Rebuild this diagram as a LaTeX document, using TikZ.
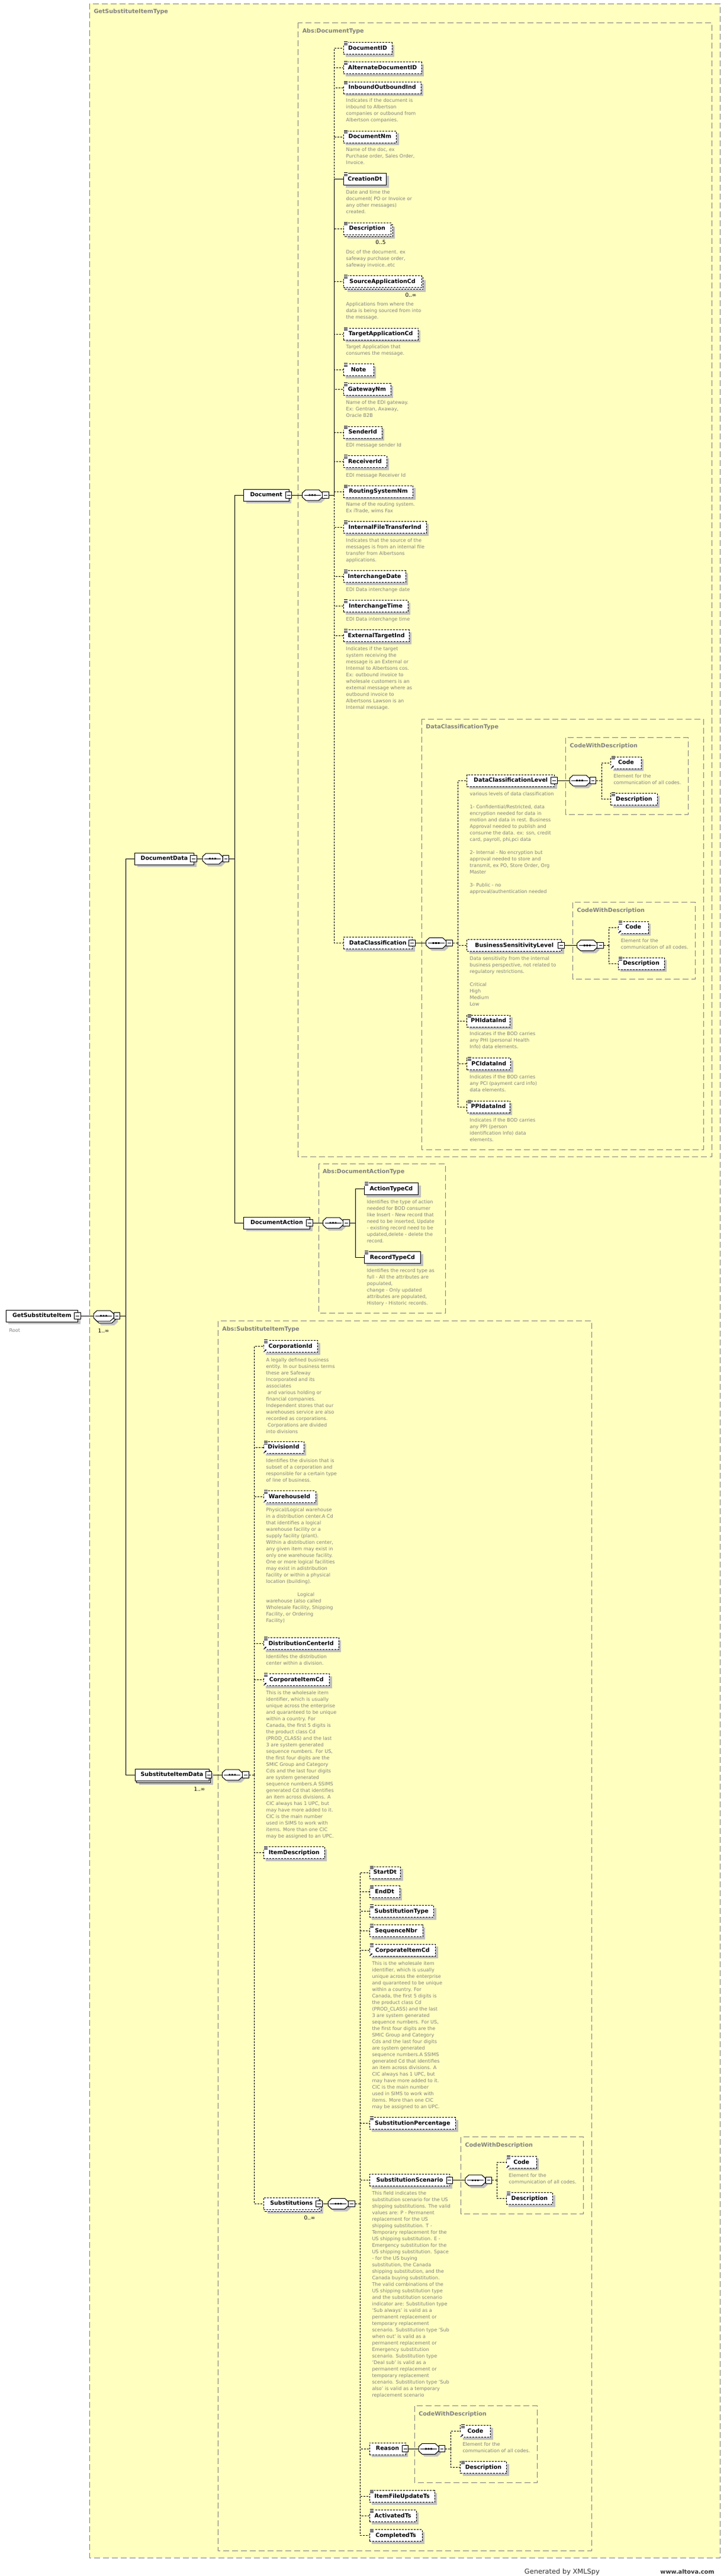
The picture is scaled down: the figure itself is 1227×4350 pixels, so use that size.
\documentclass[tikz,border=0pt]{standalone}
\usepackage{fontspec}
\setmainfont{DejaVu Sans}
\usetikzlibrary{shadows,arrows.meta}
\definecolor{yel}{HTML}{FFFFC0}
\definecolor{bordg}{HTML}{808080}
\definecolor{txtg}{HTML}{808080}
\definecolor{shc}{HTML}{C0C0C0}
\pgfdeclarelayer{back}
\pgfdeclarelayer{mid}
\pgfsetlayers{back,mid,main}
\tikzset{
  elbase/.style={draw=black, fill=white, line width=1pt, minimum height=20pt, inner xsep=2pt, inner ysep=0pt, text height=7pt, text depth=1.8pt, font=\fontsize{9.5}{11}\selectfont\bfseries, anchor=west},
  elem/.style={elbase, drop shadow={shadow xshift=4pt, shadow yshift=-4pt, fill=shc, opacity=1}},
  optb/.style={dash pattern=on 3pt off 2pt},
  ln/.style={draw=black, line width=1pt},
  oln/.style={draw=black, line width=1pt, dash pattern=on 3pt off 2pt},
  contst/.style={fill=yel, draw=bordg, line width=1pt, dash pattern=on 10pt off 5pt},
  tlabel/.style={font=\fontsize{9.6}{11}\selectfont\bfseries, text=txtg, anchor=base west, inner sep=0pt},
  descr/.style={font=\fontsize{8.1}{11}\selectfont, text=txtg, anchor=north west, align=left, inner sep=0pt},
  mult/.style={font=\fontsize{9}{10}\selectfont, text=black, inner sep=0pt},
}
% element box (complex, no icon)
\newcommand\xel[6][]{\node[elem,#1,minimum width={(#5)-(#3)}] (#2) at ({#3},{#4+10}) {#6};}
% simple element icon
\newcommand\xicn[2]{%
 \fill[white] ({#1+0.5},{#2-1.5}) rectangle ({#1+8},{#2+5.5});
 \draw[line width=0.9pt] ({#1+1.5},{#2-0.8}) -- ({#1+7.5},{#2-0.8})
   ({#1+1.5},{#2+1.5}) -- ({#1+7.5},{#2+1.5})
   ({#1+1.5},{#2+3.8}) -- ({#1+7.5},{#2+3.8});}
% reference arrow
\newcommand\xref[2]{%
 \fill[white] ({#1-0.5},{#2-6.5}) rectangle ({#1+6.5},{#2+0.5});
 \draw[line width=1pt,-{Triangle[length=2.8pt,width=2.8pt]}] ({#1+1},{#2-0.5}) -- ({#1+5.5},{#2-5});}
\newcommand\xels[6][]{\xel[#1]{#2}{#3}{#4}{#5}{#6}\xicn{#3}{#4}}
\newcommand\xelr[6][]{\xels[#1]{#2}{#3}{#4}{#5}{#6}\xref{#3}{#4+20}}
% multiple element
\newcommand\xelm[6][]{%
 \draw[line width=1pt,fill=white,#1,drop shadow={shadow xshift=4pt,shadow yshift=-4pt,fill=shc,opacity=1}] ({#3+3},{#4+3}) rectangle ({#5+3},{#4+23});
 \node[elbase,#1,minimum width={(#5)-(#3)}] (#2) at ({#3},{#4+10}) {#6};}
% minus box
\newcommand\xminus[2]{%
 \draw[line width=1pt,fill=white] ({#1-5.3},{#2-5.3}) rectangle ({#1+5.3},{#2+5.3});
 \draw[line width=1pt] ({#1-3},{#2}) -- ({#1+3},{#2});}
% sequence compositor
\newcommand\xseqcore[4]{%
 \begin{scope}[shift={({#2},{#3})}]
  \draw[line width=1pt,fill=white] (0,-3.5) -- (6,-9) -- (28,-9) -- (34,-3.5) -- (34,3.5) -- (28,9) -- (6,9) -- (0,3.5) -- cycle;
  \draw[line width=1pt] (3,0) -- (31,0);
  \fill (11.2,-1.3) rectangle (13.8,1.3) (15.7,-1.3) rectangle (18.3,1.3) (20.2,-1.3) rectangle (22.8,1.3);
  \draw[line width=1pt,fill=white] (34.2,-5.3) rectangle (44.8,5.3);
  \draw[line width=1pt] (36.8,0) -- (42.2,0);
 \end{scope}
 \node[inner sep=0pt,minimum width=45pt,minimum height=18pt,anchor=west] (#1) at ({#2},{#3}) {};
 \coordinate (#1-r) at ({#4},{#3});}
\newcommand\xseq[4]{%
 \fill[shc,shift={({#2+4},{#3+4})}] (0,-3.5) -- (6,-9) -- (28,-9) -- (34,-3.5) -- (34,3.5) -- (28,9) -- (6,9) -- (0,3.5) -- cycle;
 \xseqcore{#1}{#2}{#3}{#4}}
\newcommand\xseqm[4]{%
 \fill[shc,shift={({#2+7},{#3+7})}] (0,-3.5) -- (6,-9) -- (28,-9) -- (34,-3.5) -- (34,3.5) -- (28,9) -- (6,9) -- (0,3.5) -- cycle;
 \draw[line width=1pt,fill=white,shift={({#2+3},{#3+3})}] (0,-3.5) -- (6,-9) -- (28,-9) -- (34,-3.5) -- (34,3.5) -- (28,9) -- (6,9) -- (0,3.5) -- cycle;
 \xseqcore{#1}{#2}{#3}{#4}}
% description text
\newcommand\xdsc[4]{\node[descr] (#1) at ({#2},{#3-4.7}) {\strut #4};}
% container type box
\newcommand\xcont[6]{%
 \begin{pgfonlayer}{back}\draw[contst] ({#2},{#3}) rectangle ({#4},{#5});\end{pgfonlayer}
 \node[tlabel] (#1) at ({#2+6.8},{#3+16.8}) {#6};}
\newcommand\xcic{This is the wholesale item\\identifier, which is usually\\unique across the enterprise\\and quaranteed to be unique\\within a country. For\\Canada, the first 5 digits is\\the product class Cd\\(PROD\_CLASS) and the last\\3 are system generated\\sequence numbers.  For US,\\the first four digits are the\\SMIC Group and Category\\Cds and the last four digits\\are system generated\\sequence numbers.A SSIMS\\generated Cd that identifies\\an item across divisions.  A\\CIC always has 1 UPC, but\\may have more added to it.\\CIC is the main number\\used in SIMS to work with\\items. More than one CIC\\may be assigned to an UPC.}
\newcommand\xcodedesc{Element for the\\communication of all codes.}
\begin{document}
\begin{tikzpicture}[x=1pt,y=-1pt]
\useasboundingbox (0,0) rectangle (1227,4350);
\begin{pgfonlayer}{back}\fill[white] (0,0) rectangle (1227,4350);\end{pgfonlayer}

% ---------- containers ----------
\xcont{lblouter}{151.5}{6}{1216}{4319}{GetSubstituteItemType}
\xcont{lbldoc}{503.8}{38.3}{1202.9}{1953}{Abs:DocumentType}
\xcont{lbldct}{712.4}{1214}{1188.4}{1941}{DataClassificationType}
\xcont{lblcwda}{955.6}{1245.7}{1162.7}{1375.4}{CodeWithDescription}
\xcont{lblcwdb}{967.5}{1523.6}{1174.6}{1653.2}{CodeWithDescription}
\xcont{lbldat}{538}{1965}{752.5}{2217}{Abs:DocumentActionType}
\xcont{lblsit}{368.4}{2230.5}{999.3}{4307}{Abs:SubstituteItemType}
\xcont{lblcwdc}{778.5}{3608.5}{985.7}{3738.3}{CodeWithDescription}
\xcont{lblcwdd}{700.3}{4062.7}{907.7}{4192.3}{CodeWithDescription}

% ---------- root ----------
\xel{root}{9.5}{2212}{131}{GetSubstituteItem}\xminus{131}{2222}
\node[font=\fontsize{8.1}{10}\selectfont, text=txtg, anchor=base west, inner sep=0pt] (rootlbl) at (15.5,2249) {Root};
\xseqm{rootseq}{158}{2222}{212.5}
\node[mult] (minfa) at (175,2247) {1..∞};

% ---------- DocumentData ----------
\xel{dd}{227}{1440}{327}{DocumentData}\xminus{327}{1450}
\xseq{ddseq}{342}{1450}{396.5}
\xel{doc}{411}{826}{487.5}{Document}\xminus{487.5}{836}
\xseq{docseq}{510.5}{836}{564.5}

\xels[optb]{docid}{579.5}{71.5}{661.6}{DocumentID}
\xels[optb]{altdocid}{579.5}{104.5}{711.6}{AlternateDocumentID}
\xels[optb]{inout}{579.5}{138}{710.7}{InboundOutboundInd}
\xdsc{dinout}{584.5}{169.5}{Indicates if the document is\\inbound to Albertson\\companies or outbound from\\Albertson companies.}
\xels[optb]{docnm}{579.5}{221}{669.2}{DocumentNm}
\xdsc{ddocnm}{584.5}{252.6}{Name of the doc, ex\\Purchase order, Sales Order,\\Invoice.}
\xels{credt}{579.5}{292.5}{652.2}{CreationDt}
\xdsc{dcredt}{584.5}{324.5}{Date and time the\\document( PO or Invoice or\\any other messages)\\created.}
\xelm[optb]{docdesc}{579.5}{376}{660}{Description}\xicn{579.5}{376}
\node[mult] (mfive) at (643,409) {0..5};
\xdsc{ddocdesc}{584.5}{424.8}{Dsc of the document. ex\\safeway purchase order,\\safeway invoice..etc}
\xelm[optb]{srcapp}{579.5}{465.5}{711.6}{SourceApplicationCd}\xicn{579.5}{465.5}
\node[mult] (minfb) at (694,498) {0..∞};
\xdsc{dsrcapp}{584.5}{513.6}{Applications from where the\\data is being sourced from into\\the message.}
\xels[optb]{tgtapp}{579.5}{554}{705.8}{TargetApplicationCd}
\xdsc{dtgtapp}{584.5}{585.5}{Target Application that\\consumes the message.}
\xels[optb]{note}{579.5}{614.5}{630.8}{Note}
\xels[optb]{gateway}{579.5}{647.5}{659.5}{GatewayNm}
\xdsc{dgateway}{584.5}{679.5}{Name of the EDI gateway.\\Ex: Gentran, Axaway,\\Oracle B2B}
\xels[optb]{sender}{579.5}{720}{644.8}{SenderId}
\xdsc{dsender}{584.5}{751.6}{EDI message sender Id}
\xels[optb]{receiver}{579.5}{769.5}{652.5}{ReceiverId}
\xdsc{dreceiver}{584.5}{801.8}{EDI message Receiver Id}
\xels[optb]{routing}{579.5}{820}{697.4}{RoutingSystemNm}
\xdsc{drouting}{584.5}{851.6}{Name of the routing system.\\Ex iTrade, wims Fax}
\xels[optb]{intfile}{579.5}{880.5}{719.8}{InternalFileTransferInd}
\xdsc{dintfile}{584.5}{912.5}{Indicates that the source of the\\messages is from an internal file\\transfer from Albertsons\\applications.}
\xels[optb]{ichdate}{579.5}{963.5}{684.8}{InterchangeDate}
\xdsc{dichdate}{584.5}{995.4}{EDI Data interchange date}
\xels[optb]{ichtime}{579.5}{1013.5}{688.6}{InterchangeTime}
\xdsc{dichtime}{584.5}{1045.6}{EDI Data interchange time}
\xels[optb]{exttgt}{579.5}{1063.5}{690.7}{ExternalTargetInd}
\xdsc{dexttgt}{584.5}{1095.7}{Indicates if the target\\system receiving the\\message is an External or\\Internal to Albertsons cos.\\Ex: outbound invoice to\\wholesale customers is an\\external message where as\\outbound invoice to\\Albertsons Lawson is an\\Internal message.}
\xel[optb]{dc}{579.5}{1582.5}{696}{DataClassification}\xminus{696}{1592.5}

% ---------- DataClassificationType ----------
\xseq{dcseq}{719.5}{1592.5}{773.5}
\xel[optb]{dcl}{788.4}{1308}{936}{DataClassificationLevel}\xminus{936}{1318}
\xdsc{ddcl}{793.4}{1340.7}{various levels of data classification\\\strut\\1- Confidential/Restricted, data\\encryption needed for data in\\motion and data in rest. Business\\Approval needed to publish and\\consume the data. ex: ssn, credit\\card, payroll, phi,pci data\\\strut\\2- Internal - No encryption but\\approval needed to store and\\transmit, ex PO, Store Order, Org\\Master\\\strut\\3- Public - no\\approval/authentication needed}
\xseq{cwdaseq}{962}{1318}{1016.4}
\xelr[optb]{codea}{1031.3}{1278}{1082.8}{Code}
\xdsc{dcodea}{1036.3}{1310.7}{\xcodedesc}
\xels[optb]{desca}{1031.3}{1339.5}{1109.6}{Description}

\xel[optb]{bsl}{788.4}{1586.5}{948}{BusinessSensitivityLevel}\xminus{948}{1596.5}
\xdsc{dbsl}{793.4}{1618.6}{Data sensitivity from the internal\\business perspective, not related to\\regulatory restrictions.\\\strut\\Critical\\High\\Medium\\Low}
\xseq{cwdbseq}{974.7}{1596.5}{1028.3}
\xelr[optb]{codeb}{1043.6}{1556.3}{1094.7}{Code}
\xdsc{dcodeb}{1048.6}{1588.6}{\xcodedesc}
\xels[optb]{descb}{1043.6}{1617.3}{1121.5}{Description}

\xels[optb]{phi}{788.4}{1714}{861}{PHIdataInd}
\xdsc{dphi}{793.4}{1745.4}{Indicates if the BOD carries\\any PHI (personal Health\\Info) data elements.}
\xels[optb]{pci}{788.4}{1786.5}{862}{PCIdataInd}
\xdsc{dpci}{793.4}{1818.7}{Indicates if the BOD carries\\any PCI (payment card info)\\data elements.}
\xels[optb]{ppi}{788.4}{1859}{860.7}{PPIdataInd}
\xdsc{dppi}{793.4}{1891.3}{Indicates if the BOD carries\\any PPI (person\\identification Info) data\\elements.}

% ---------- DocumentAction ----------
\xel{da}{411}{2055}{523}{DocumentAction}\xminus{523}{2065}
\xseq{daseq}{545.5}{2065}{600}
\xels{atype}{614.6}{1997.5}{706.3}{ActionTypeCd}
\xdsc{datype}{619.6}{2029.4}{Identifies the type of action\\needed for BOD consumer\\like Insert - New record that\\need to be inserted, Update\\- existing record need to be\\updated,delete - delete the\\record.}
\xels{rtype}{614.6}{2113.5}{710.1}{RecordTypeCd}
\xdsc{drtype}{619.6}{2145.2}{Identifies the record type as\\full - All the attributes are\\populated,\\change - Only updated\\attributes are populated,\\History - Historic records.}

% ---------- SubstituteItemData ----------
\xelm{sid}{227.5}{2987}{352.5}{SubstituteItemData}\xminus{352.5}{2997}
\node[mult] (minfc) at (337,3021) {1..∞};
\xseq{sidseq}{375.3}{2997}{429.6}
\xelr[optb]{corp}{444.5}{2263.5}{536}{CorporationId}
\xdsc{dcorp}{449.5}{2295.8}{A legally defined business\\entity. In our business terms\\these are Safeway\\Incorporated and its\\associates\\\hspace*{2.5pt}and various holding or\\financial companies.\\Independent stores that  our\\warehouses service are also\\recorded as corporations.\\\hspace*{2.5pt}Corporations are divided\\into divisions}
\xelr[optb]{div}{444.5}{2434.3}{512.5}{DivisionId}
\xdsc{ddiv}{449.5}{2466.2}{Identifies the division that is\\subset of a corporation and\\responsible for a certain type\\of line of business.}
\xelr[optb]{wh}{444.5}{2517.7}{532.5}{WarehouseId}
\xdsc{dwh}{449.5}{2549.5}{Physical/Logical warehouse\\in a distribution center.A  Cd\\that identifies a logical\\warehouse facility or a\\supply facility  (plant).\\Within a distribution center,\\any given item may exist in\\only  one warehouse facility.\\One or more logical facilities\\may exist in adistribution\\facility or within a physical\\location (building).\\\strut\\\hspace*{53pt}Logical\\warehouse (also called\\Wholesale Facility, Shipping\\Facility, or  Ordering\\Facility)}
\xelr[optb]{dcid}{444.5}{2765.6}{571.8}{DistributionCenterId}
\xdsc{ddcid}{449.5}{2797}{Identiifes the distribution\\center within a division.}
\xelr[optb]{cic}{444.5}{2826.6}{556}{CorporateItemCd}
\xdsc{dcic}{449.5}{2858.4}{\xcic}
\xels[optb]{itemdesc}{444.5}{3118.8}{547.9}{ItemDescription}
\xelm[optb]{subs}{444.5}{3711.3}{539}{Substitutions}\xminus{539}{3721.3}
\node[mult] (minfd) at (523,3745) {0..∞};

% ---------- Substitutions ----------
\xseq{subsseq}{554.3}{3721.3}{608.7}
\xels[optb]{startdt}{623.5}{3152}{676.1}{StartDt}
\xels[optb]{enddt}{623.5}{3184.8}{674.6}{EndDt}
\xels[optb]{subtype}{623.5}{3217.6}{732}{SubstitutionType}
\xels[optb]{seqnbr}{623.5}{3250.5}{713.6}{SequenceNbr}
\xelr[optb]{cicb}{623.5}{3283.4}{735}{CorporateItemCd}
\xdsc{dcicb}{628.3}{3315.7}{\xcic}
\xels[optb]{subpct}{623.5}{3575.5}{769}{SubstitutionPercentage}
\xel[optb]{subscen}{623.5}{3671.8}{759.3}{SubstitutionScenario}\xminus{759.3}{3681.8}
\xdsc{dsubscen}{628.3}{3703.6}{This field indicates the\\substitution scenario for the US\\shipping substitutions. The valid\\values are:  P - Permanent\\replacement for the US\\shipping substitution. T -\\Temporary replacement for the\\US shipping substitution. E -\\Emergency substitution for the\\US shipping substitution. Space\\- for the US buying\\substitution, the Canada\\shipping substitution, and the\\Canada buying substitution.\\The valid combinations of the\\US shipping substitution type\\and the substitution scenario\\indicator are: Substitution type\\'Sub always' is valid as a\\permanent replacement or\\temporary replacement\\scenario. Substitution type 'Sub\\when out' is valid as a\\permanent replacement or\\Emergency substitution\\scenario. Substitution type\\'Deal sub' is valid as a\\permanent replacement or\\temporary replacement\\scenario. Substitution type 'Sub\\also' is valid as a temporary\\replacement scenario}
\xseq{cwdcseq}{785.8}{3681.8}{839.4}
\xelr[optb]{codec}{854.7}{3641.4}{905.6}{Code}
\xdsc{dcodec}{859.5}{3673.6}{\xcodedesc}
\xels[optb]{descc}{854.7}{3702.6}{933.2}{Description}
\xel[optb]{reason}{623.5}{4125.2}{684.5}{Reason}\xminus{684.5}{4135.2}
\xseq{cwddseq}{707}{4135.2}{761.3}
\xelr[optb]{coded}{777}{4095.6}{828}{Code}
\xdsc{dcoded}{781.3}{4127.7}{\xcodedesc}
\xels[optb]{descd}{777}{4156.7}{855}{Description}
\xels[optb]{ifu}{623.5}{4205.7}{733.7}{ItemFileUpdateTs}
\xels[optb]{act}{623.5}{4238.6}{702.7}{ActivatedTs}
\xels[optb]{comp}{623.5}{4271.7}{712.7}{CompletedTs}

% ---------- footer ----------
\node[font=\fontsize{11.4}{13}\selectfont, text=black!80, anchor=base, inner sep=0pt] (gen) at (949.4,4346) {Generated by XMLSpy};
\node[font=\fontsize{9.8}{12}\selectfont\bfseries, text=black!80, anchor=base, inner sep=0pt] (alt) at (1161,4346) {www.altova.com};

% ---------- connectors ----------
\begin{pgfonlayer}{mid}
\draw[ln] (root.east) -- (rootseq.west);
\draw[ln] (rootseq.east) -- (rootseq-r);
\draw[ln] (rootseq-r) |- (dd.west);
\draw[ln] (rootseq-r) |- (sid.west);
\draw[ln] (dd.east) -- (ddseq.west);
\draw[ln] (ddseq.east) -- (ddseq-r);
\draw[ln] (ddseq-r) |- (doc.west);
\draw[ln] (ddseq-r) |- (da.west);
\draw[ln] (doc.east) -- (docseq.west);
\draw[ln] (docseq.east) -- (docseq-r);
\foreach \c in {docid,altdocid,inout,docnm,docdesc,srcapp,tgtapp,note,gateway,sender,receiver,routing,intfile,ichdate,ichtime,exttgt,dc}
  \draw[oln] (docseq-r) |- (\c.west);
\draw[ln] (docseq-r) |- (credt.west);
\draw[ln] (dc.east) -- (dcseq.west);
\draw[oln] (dcseq.east) -- (dcseq-r);
\foreach \c in {dcl,bsl,phi,pci,ppi}
  \draw[oln] (dcseq-r) |- (\c.west);
\draw[ln] (dcl.east) -- (cwdaseq.west);
\draw[oln] (cwdaseq.east) -- (cwdaseq-r);
\foreach \c in {codea,desca}
  \draw[oln] (cwdaseq-r) |- (\c.west);
\draw[ln] (bsl.east) -- (cwdbseq.west);
\draw[oln] (cwdbseq.east) -- (cwdbseq-r);
\foreach \c in {codeb,descb}
  \draw[oln] (cwdbseq-r) |- (\c.west);
\draw[ln] (da.east) -- (daseq.west);
\draw[ln] (daseq.east) -- (daseq-r);
\draw[ln] (daseq-r) |- (atype.west);
\draw[ln] (daseq-r) |- (rtype.west);
\draw[ln] (sid.east) -- (sidseq.west);
\draw[oln] (sidseq.east) -- (sidseq-r);
\foreach \c in {corp,div,wh,dcid,cic,itemdesc,subs}
  \draw[oln] (sidseq-r) |- (\c.west);
\draw[ln] (subs.east) -- (subsseq.west);
\draw[oln] (subsseq.east) -- (subsseq-r);
\foreach \c in {startdt,enddt,subtype,seqnbr,cicb,subpct,subscen,reason,ifu,act,comp}
  \draw[oln] (subsseq-r) |- (\c.west);
\draw[ln] (subscen.east) -- (cwdcseq.west);
\draw[oln] (cwdcseq.east) -- (cwdcseq-r);
\foreach \c in {codec,descc}
  \draw[oln] (cwdcseq-r) |- (\c.west);
\draw[ln] (reason.east) -- (cwddseq.west);
\draw[oln] (cwddseq.east) -- (cwddseq-r);
\foreach \c in {coded,descd}
  \draw[oln] (cwddseq-r) |- (\c.west);
\end{pgfonlayer}
\end{tikzpicture}
\end{document}
